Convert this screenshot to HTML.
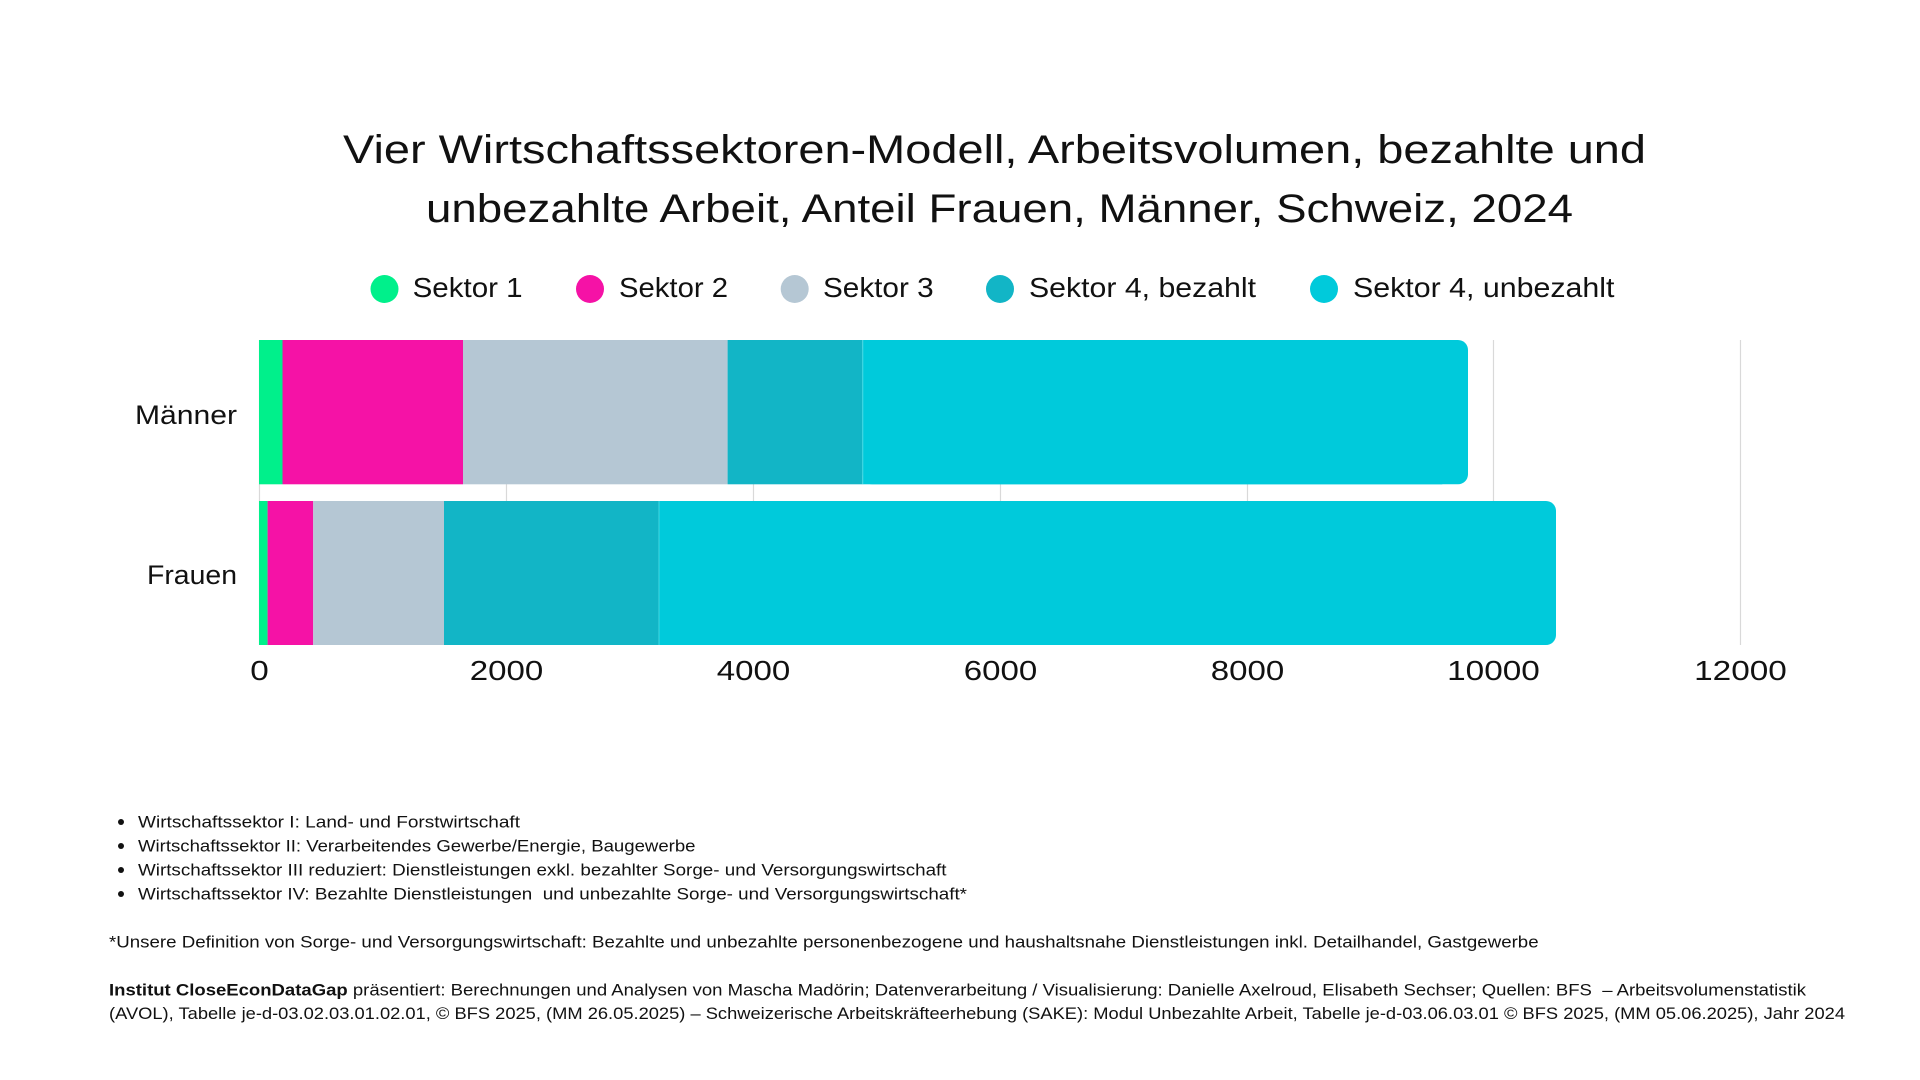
<!DOCTYPE html>
<html>
<head>
<meta charset="utf-8">
<style>
  html, body { margin: 0; padding: 0; background: #ffffff; }
  svg { display: block; }
  text { font-family: "Liberation Sans", "DejaVu Sans", sans-serif; fill: #111111; }
</style>
</head>
<body>
<svg width="1920" height="1080" viewBox="0 0 1920 1080" xmlns="http://www.w3.org/2000/svg">
  <rect x="0" y="0" width="1920" height="1080" fill="#ffffff"/>

  <!-- Title -->
  <text x="343" y="163" font-size="40" textLength="1303" lengthAdjust="spacingAndGlyphs">Vier Wirtschaftssektoren-Modell, Arbeitsvolumen, bezahlte und</text>
  <text x="426" y="222" font-size="40" textLength="1147" lengthAdjust="spacingAndGlyphs">unbezahlte Arbeit, Anteil Frauen, Männer, Schweiz, 2024</text>

  <!-- Legend -->
  <circle cx="384.5" cy="289" r="14" fill="#00F08B"/>
  <text x="412.6" y="297" font-size="28" textLength="110" lengthAdjust="spacingAndGlyphs">Sektor 1</text>
  <circle cx="590" cy="289" r="14" fill="#F512A6"/>
  <text x="619" y="297" font-size="28" textLength="109" lengthAdjust="spacingAndGlyphs">Sektor 2</text>
  <circle cx="794.7" cy="289" r="14" fill="#B5C7D4"/>
  <text x="823" y="297" font-size="28" textLength="110.6" lengthAdjust="spacingAndGlyphs">Sektor 3</text>
  <circle cx="1000" cy="289" r="14" fill="#12B5C6"/>
  <text x="1029" y="297" font-size="28" textLength="227" lengthAdjust="spacingAndGlyphs">Sektor 4, bezahlt</text>
  <circle cx="1324" cy="289" r="14" fill="#00CADB"/>
  <text x="1353" y="297" font-size="28" textLength="261.5" lengthAdjust="spacingAndGlyphs">Sektor 4, unbezahlt</text>

  <!-- Gridlines -->
  <g stroke="#D9D9D9" stroke-width="1.2">
    <line x1="259.5" y1="340" x2="259.5" y2="645"/>
    <line x1="506.5" y1="340" x2="506.5" y2="645"/>
    <line x1="753.5" y1="340" x2="753.5" y2="645"/>
    <line x1="1000.5" y1="340" x2="1000.5" y2="645"/>
    <line x1="1247.5" y1="340" x2="1247.5" y2="645"/>
    <line x1="1493.5" y1="340" x2="1493.5" y2="645"/>
    <line x1="1740.5" y1="340" x2="1740.5" y2="645"/>
  </g>

  <!-- Männer bar -->
  <rect x="259" y="340" width="23.5" height="144.3" fill="#00F08B"/>
  <rect x="282.5" y="340" width="180.5" height="144.3" fill="#F512A6"/>
  <rect x="463" y="340" width="264.6" height="144.3" fill="#B5C7D4"/>
  <rect x="727.6" y="340" width="134.7" height="144.3" fill="#12B5C6"/>
  <rect x="862.3" y="340" width="605.7" height="144.3" rx="10" ry="10" fill="#00CADB"/>
  <rect x="862.3" y="340" width="580" height="144.3" fill="#00CADB"/>
  <line x1="862.8" y1="340" x2="862.8" y2="484.3" stroke="#5FDCE6" stroke-width="1" opacity="0.7"/>

  <!-- Frauen bar -->
  <rect x="259" y="501" width="8.6" height="144" fill="#00F08B"/>
  <rect x="267.6" y="501" width="45.6" height="144" fill="#F512A6"/>
  <rect x="313.2" y="501" width="130.8" height="144" fill="#B5C7D4"/>
  <rect x="444" y="501" width="214.5" height="144" fill="#12B5C6"/>
  <rect x="658.5" y="501" width="897.5" height="144" rx="10" ry="10" fill="#00CADB"/>
  <rect x="658.5" y="501" width="870" height="144" fill="#00CADB"/>
  <line x1="659" y1="501" x2="659" y2="645" stroke="#5FDCE6" stroke-width="1" opacity="0.7"/>

  <!-- Category labels -->
  <text x="237" y="424" font-size="27" text-anchor="end" textLength="102" lengthAdjust="spacingAndGlyphs">Männer</text>
  <text x="237" y="584" font-size="27" text-anchor="end" textLength="90" lengthAdjust="spacingAndGlyphs">Frauen</text>

  <!-- Tick labels -->
  <g font-size="28" text-anchor="middle">
    <text x="259.5" y="680" textLength="18.5" lengthAdjust="spacingAndGlyphs">0</text>
    <text x="506.5" y="680" textLength="73.5" lengthAdjust="spacingAndGlyphs">2000</text>
    <text x="753.5" y="680" textLength="73.5" lengthAdjust="spacingAndGlyphs">4000</text>
    <text x="1000.5" y="680" textLength="73.5" lengthAdjust="spacingAndGlyphs">6000</text>
    <text x="1247.5" y="680" textLength="73.5" lengthAdjust="spacingAndGlyphs">8000</text>
    <text x="1493.5" y="680" textLength="92.7" lengthAdjust="spacingAndGlyphs">10000</text>
    <text x="1740.5" y="680" textLength="92.7" lengthAdjust="spacingAndGlyphs">12000</text>
  </g>

  <!-- Footnotes -->
  <g font-size="17">
    <circle cx="121" cy="822" r="3" fill="#111"/>
    <text x="138" y="827.5" textLength="382" lengthAdjust="spacingAndGlyphs">Wirtschaftssektor I: Land- und Forstwirtschaft</text>
    <circle cx="121" cy="846" r="3" fill="#111"/>
    <text x="138" y="851.5" textLength="557.5" lengthAdjust="spacingAndGlyphs">Wirtschaftssektor II: Verarbeitendes Gewerbe/Energie, Baugewerbe</text>
    <circle cx="121" cy="870" r="3" fill="#111"/>
    <text x="138" y="875.5" textLength="808.5" lengthAdjust="spacingAndGlyphs">Wirtschaftssektor III reduziert: Dienstleistungen exkl. bezahlter Sorge- und Versorgungswirtschaft</text>
    <circle cx="121" cy="894" r="3" fill="#111"/>
    <text x="138" y="899.5" textLength="829" lengthAdjust="spacingAndGlyphs" xml:space="preserve">Wirtschaftssektor IV: Bezahlte Dienstleistungen  und unbezahlte Sorge- und Versorgungswirtschaft*</text>

    <text x="109" y="947.5" textLength="1429.6" lengthAdjust="spacingAndGlyphs">*Unsere Definition von Sorge- und Versorgungswirtschaft: Bezahlte und unbezahlte personenbezogene und haushaltsnahe Dienstleistungen inkl. Detailhandel, Gastgewerbe</text>

    <text x="109" y="995.5" textLength="1697" lengthAdjust="spacingAndGlyphs" xml:space="preserve"><tspan font-weight="bold">Institut CloseEconDataGap</tspan> präsentiert: Berechnungen und Analysen von Mascha Madörin; Datenverarbeitung / Visualisierung: Danielle Axelroud, Elisabeth Sechser; Quellen: BFS  – Arbeitsvolumenstatistik</text>
    <text x="109" y="1019" textLength="1736" lengthAdjust="spacingAndGlyphs">(AVOL), Tabelle je-d-03.02.03.01.02.01, © BFS 2025, (MM 26.05.2025) – Schweizerische Arbeitskräfteerhebung (SAKE): Modul Unbezahlte Arbeit, Tabelle je-d-03.06.03.01 © BFS 2025, (MM 05.06.2025), Jahr 2024</text>
  </g>
</svg>
</body>
</html>
